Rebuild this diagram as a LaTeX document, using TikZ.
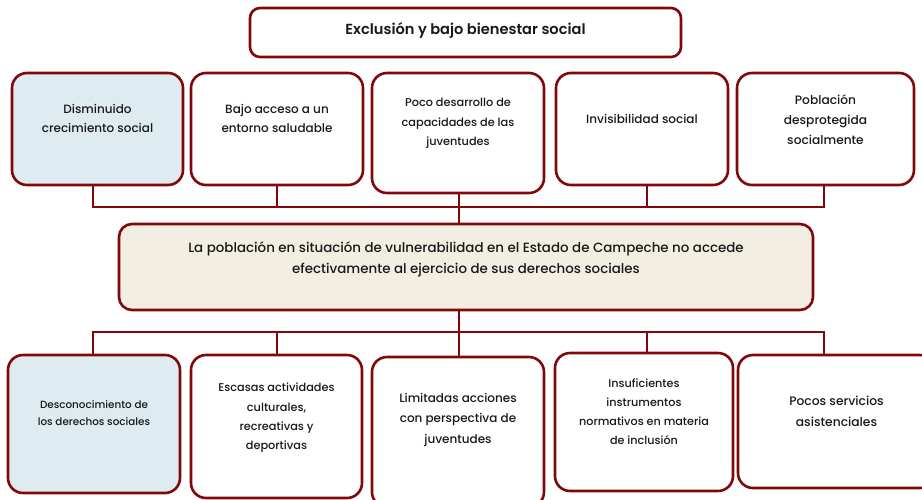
\documentclass[tikz,border=0pt]{standalone}
\usepackage{fontspec}
\setmainfont{Poppins Medium}
\newfontfamily\semibfont{Poppins SemiBold}
\definecolor{brd}{RGB}{128,8,10}
\definecolor{bluef}{RGB}{222,235,240}
\definecolor{beige}{RGB}{242,238,226}
\definecolor{txtc}{RGB}{25,25,25}
\tikzset{
  box/.style={draw=brd, line width=2.6pt, rounded corners=15pt, fill=white, inner sep=0pt},
  txt/.style={align=center, text=txtc, inner sep=0pt, font=\fontsize{12}{19.5}\selectfont},
  conn/.style={draw=brd, line width=2.6pt}
}
\begin{document}
\begin{tikzpicture}[x=1pt,y=-1pt]
\useasboundingbox (0,0) rectangle (922,499);
\clip (0,0) rectangle (922,499);
% top
\node[box, rounded corners=10pt, minimum width=431pt, minimum height=49pt] (top) at (465.5,32.5) {};
\node[txt, font=\semibfont\fontsize{14.6}{17}\selectfont] (ttop) at (465.5,30) {Exclusión y bajo bienestar social};
% row 1
\node[box, fill=bluef, minimum width=171pt, minimum height=112pt] (a1) at (97.5,129) {};
\node[box, minimum width=172pt, minimum height=112pt] (a2) at (277,129) {};
\node[box, minimum width=172pt, minimum height=120pt] (a3) at (458,133) {};
\node[box, minimum width=172pt, minimum height=112pt] (a4) at (642,129) {};
\node[box, minimum width=177pt, minimum height=112pt] (a5) at (825.5,129) {};
\node[txt] (ta1) at (97.5,118.5) {Disminuido\\crecimiento social};
\node[txt] (ta2) at (277,118.5) {Bajo acceso a un\\entorno saludable};
\node[txt, font=\fontsize{11.3}{19.5}\selectfont] (ta3) at (458,123.5) {Poco desarrollo de\\capacidades de las\\juventudes};
\node[txt] (ta4) at (642,119) {Invisibilidad social};
\node[txt, font=\fontsize{12.2}{20}\selectfont] (ta5) at (825.5,120) {Población\\desprotegida\\socialmente};
% middle
\node[box, fill=beige, rounded corners=13pt, minimum width=694pt, minimum height=86pt] (m) at (466,267) {};
\node[txt, font=\fontsize{13.4}{21}\selectfont] (tm) at (466,259.5) {La población en situación de vulnerabilidad en el Estado de Campeche no accede\\efectivamente al ejercicio de sus derechos sociales};
% row 2
\node[box, fill=bluef, minimum width=172pt, minimum height=138pt] (b1) at (94,424) {};
\node[box, minimum width=171pt, minimum height=143pt] (b2) at (276.5,426.5) {};
\node[box, minimum width=172pt, minimum height=150pt] (b3) at (458,432) {};
\node[box, minimum width=178pt, minimum height=138pt] (b4) at (644,422) {};
\node[box, minimum width=197pt, minimum height=133pt] (b5) at (836.5,421.5) {};
\node[txt, font=\fontsize{10.4}{17}\selectfont] (tb1) at (94,413.5) {Desconocimiento de\\los derechos sociales};
\node[txt, font=\fontsize{11.3}{19.3}\selectfont] (tb2) at (276.5,418) {Escasas actividades\\culturales,\\recreativas y\\deportivas};
\node[txt, font=\fontsize{12}{20.5}\selectfont] (tb3) at (458,419.5) {Limitadas acciones\\con perspectiva de\\juventudes};
\node[txt, font=\fontsize{11.2}{19}\selectfont] (tb4) at (644,411.5) {Insuficientes\\instrumentos\\normativos en materia\\de inclusión};
\node[txt, font=\fontsize{12.3}{21}\selectfont] (tb5) at (836.5,411.5) {Pocos servicios\\asistenciales};
% connectors top
\coordinate (busT) at (459,207);
\coordinate (busB) at (459,332);
\draw[conn] ([xshift=-4.5pt]a1.south) |- (busT);
\draw[conn] (a2.south) |- (busT);
\draw[conn] ([xshift=5pt]a4.south) |- (busT);
\draw[conn] ([xshift=-1.5pt]a5.south) |- (busT);
\draw[conn] ([xshift=1pt]a3.south) -- ([xshift=1pt]a3.south |- m.north);
% connectors bottom
\draw[conn] (m.south -| busB) -- (busB);
\draw[conn] ([xshift=-1pt]b1.north) |- (busB);
\draw[conn] ([xshift=0.5pt]b2.north) |- (busB);
\draw[conn] ([xshift=1pt]b3.north) |- (busB);
\draw[conn] ([xshift=3pt]b4.north) |- (busB);
\draw[conn] ([xshift=-12.5pt]b5.north) |- (busB);
\end{tikzpicture}
\end{document}
